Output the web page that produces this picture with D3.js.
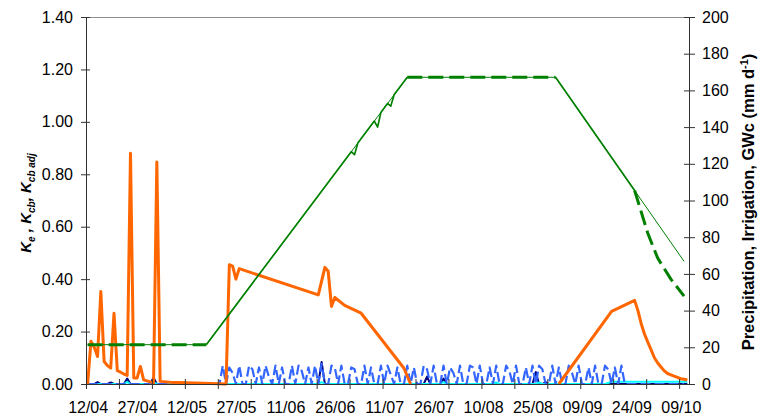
<!DOCTYPE html>
<html><head><meta charset="utf-8">
<script src="https://cdn.jsdelivr.net/npm/d3@7"></script>
<style>
body{margin:0;background:#fff;}
svg{display:block;font-family:"Liberation Sans",Arial,sans-serif;}
</style></head><body>
<svg id="chart" width="758" height="417"></svg>
<script>
// ---- data (day index 0 = 12/04) ----
const dateLabels = ["12/04","27/04","12/05","27/05","11/06","26/06","11/07","26/07","10/08","25/08","09/09","24/09","09/10"];
const labelDays = [0,15,30,45,60,75,90,105,120,135,150,165,180];
const tickDays = [-0.5,9.5,19.5,29.5,39.5,49.5,59.5,69.5,79.5,89.5,99.5,109.5,119.5,129.5,139.5,149.5,159.5,169.5,179.5];
const leftTicks = [0,0.2,0.4,0.6,0.8,1.0,1.2,1.4];
const rightTicks = [0,20,40,60,80,100,120,140,160,180,200];

// Ke (orange)
const keSeries = [[0,0],[1,0.163],[2,0.14],[3,0.105],[4,0.353],[5,0.086],[6,0.07],[7,0.061],[8,0.27],[9,0.051],[10,0.045],[11,0.038],[12,0.033],[13,0.88],[14,0.023],[15,0.023],[16,0.067],[17,0.016],[18,0.012],[19,0.008],[20,0.005],[21,0.847],[22,0.01],[25,0.007],[30,0.005],[35,0.003],[42,0],[43,0.455],[44,0.45],[45,0.40],[46,0.44],[70,0.34],[72,0.445],[73,0.43],[74,0.296],[75,0.33],[78,0.30],[83,0.27],[96,0.06],[98,0],[120,null],[143,0],[159,0.277],[166,0.319],[167,0.28],[168,0.23],[169,0.19],[170,0.16],[171,0.13],[172,0.10],[173,0.08],[174,0.065],[175,0.05],[176,0.04],[177,0.035],[178,0.03],[179,0.025],[180,0.02],[181,0.018],[182,0.015]];
// Kcb (thin green)
const kcbSeries = [[0,0.15],[36,0.15],[97,1.17],[142,1.17],[181,0.468]];
// Kcb adj (dashed green)
const kcbAdjSeries = [[0,0.15],[36,0.15],[80,0.886],[81,0.875],[82,0.919],[87,1.003],[88,0.98],[89,1.036],[91,1.07],[92,1.06],[93,1.103],[97,1.17],[142,1.17],[166,0.738],[170,0.575],[173,0.48],[177,0.40],[181,0.335]];
// day ranges where the Kcb adj dashes are drawn (elsewhere its line looks solid)
const kcbAdjDashedRanges = [[0,36],[97,142],[166,181]];
// Precipitation + irrigation (blue dashed), daily values from day 40 to day 163
const irrigFirstDay = 40;
const irrigValues = [
  0,10,0,9,6,0,10,0,0,10,
  8,0,9,0,10,4,0,10,0,9,
  0,0,10,0,10,7,0,9,0,10,
  0,11,0,0,10,9,0,10,0,0,
  9,8,0,0,10,0,9,0,0,10,
  0,10,5,0,9,0,0,10,0,9,
  0,0,10,8,0,10,0,0,10,0,
  9,6,0,10,0,0,10,9,0,10,
  0,0,9,0,10,0,0,10,7,0,
  10,0,0,9,0,10,0,10,8,0,
  0,10,0,9,0,0,10,6,0,10,
  0,0,9,0,10,0,0,10,8,0,
  9,0,10,0];
const irrigLastDay = 181;
// GWc (navy)
const gwSeries = [[0,0],[2,0],[3,1],[4,0],[6,0],[7,0.8],[8,0],[11,0],[12,3],[13,0],[19,0],[20,3.5],[21,0],[70,0],[71,12],[72,0],[102,0],[103,4],[104,0],[107,0],[108,3],[109,0],[135,0],[136,6.5],[137,0],[138,0],[139,1],[140,0],[182,0]];
// cyan series
const cyanSeries = [[0,0],[11,0],[12,1.2],[13,0],[19,0],[20,0.8],[21,0],[70,0],[71,1],[72,0],[107,0],[108,1],[109,0],[123,0],[124,0.8],[125,0],[136,0],[137,0.8],[138,0],[157,0],[159,1.2],[182,1.2]];

// ---- chart ----
const svg = d3.select("#chart");
const L = 86, R = 689, T = 17, B = 384;
const x = d3.scaleLinear().domain([-0.5,182.5]).range([L,R]);
const yL = d3.scaleLinear().domain([0,1.4]).range([B,T]);
const yR = d3.scaleLinear().domain([0,200]).range([B,T]);

// top border
svg.append("line").attr("x1",L).attr("x2",R+1).attr("y1",T+0.5).attr("y2",T+0.5)
  .attr("stroke","#8c8c8c").attr("stroke-width",1);

const lineL = d3.line().defined(d=>d[1]!=null).x(d=>x(d[0])).y(d=>yL(d[1]));
const lineR = d3.line().defined(d=>d[1]!=null).x(d=>x(d[0])).y(d=>yR(d[1]));

const irrigSeries = [[0,0]].concat(irrigValues.map((v,i)=>[irrigFirstDay+i,v])).concat([[irrigLastDay,0]]);

const plot = svg.append("g");
plot.append("path").datum(gwSeries).attr("d",lineR).attr("fill","none")
  .attr("stroke","#000080").attr("stroke-width",2).attr("stroke-linejoin","round");
plot.append("path").datum(cyanSeries).attr("d",lineR).attr("fill","none")
  .attr("stroke","#00ffff").attr("stroke-width",2).attr("stroke-linejoin","round");
plot.append("path").datum(irrigSeries).attr("d",lineR).attr("fill","none")
  .attr("stroke","#3366ff").attr("stroke-width",2.2).attr("stroke-dasharray","10,4").attr("stroke-linejoin","round");
plot.append("path").datum(keSeries).attr("d",lineL).attr("fill","none")
  .attr("stroke","#ff6600").attr("stroke-width",3).attr("stroke-linejoin","round");
plot.append("path").datum(kcbSeries).attr("d",lineL).attr("fill","none")
  .attr("stroke","#008000").attr("stroke-width",1);

// Kcb adj: solid on the straight slopes, dashed elsewhere
const solidParts = [];
let cur = [];
kcbAdjSeries.forEach((d,i)=>{
  if (i>0) {
    const p = kcbAdjSeries[i-1];
    const seg = kcbAdjDashedRanges.some(r => p[0]>=r[0] && d[0]<=r[1]);
    if (!seg) { if (!cur.length) cur.push(p); cur.push(d); }
    else if (cur.length) { solidParts.push(cur); cur = []; }
  }
});
if (cur.length) solidParts.push(cur);
solidParts.forEach(part=>{
  plot.append("path").datum(part).attr("d",lineL).attr("fill","none")
    .attr("stroke","#008000").attr("stroke-width",1.7).attr("stroke-linejoin","round");
});
kcbAdjDashedRanges.forEach(r=>{
  const part = kcbAdjSeries.filter(d=>d[0]>=r[0] && d[0]<=r[1]);
  plot.append("path").datum(part).attr("d",lineL).attr("fill","none")
    .attr("stroke","#008000").attr("stroke-width",3).attr("stroke-dasharray","15,6");
});

// axes
const axisColor = "#333";
const gL = svg.append("g").attr("transform",`translate(${L},0)`)
  .call(d3.axisLeft(yL).tickValues(leftTicks).tickFormat(d3.format(".2f")).tickSizeOuter(0));
gL.select(".domain").attr("stroke",axisColor);
gL.selectAll(".tick line").attr("x1",-5).attr("x2",4).attr("stroke",axisColor);
gL.selectAll(".tick text").attr("x",-13).attr("font-size",16).attr("font-family","Liberation Sans, Arial, sans-serif").attr("fill","#000");

const gR = svg.append("g").attr("transform",`translate(${R},0)`)
  .call(d3.axisRight(yR).tickValues(rightTicks).tickSizeOuter(0));
gR.select(".domain").attr("stroke",axisColor);
gR.selectAll(".tick line").attr("x1",-5).attr("x2",6).attr("stroke",axisColor);
gR.selectAll(".tick text").attr("x",13).attr("font-size",16).attr("font-family","Liberation Sans, Arial, sans-serif").attr("fill","#000");

const gB = svg.append("g").attr("transform",`translate(0,${B})`)
  .call(d3.axisBottom(x).tickValues(labelDays).tickFormat((d,i)=>dateLabels[i]).tickSize(0).tickSizeOuter(0));
gB.select(".domain").attr("stroke",axisColor);
gB.selectAll(".tick text").attr("y",29).attr("dy",null).attr("font-size",16).attr("font-family","Liberation Sans, Arial, sans-serif").attr("fill","#000");

const gT = svg.append("g").attr("transform",`translate(0,${B})`)
  .call(d3.axisBottom(x).tickValues(tickDays).tickFormat("").tickSizeOuter(0));
gT.select(".domain").remove();
gT.selectAll(".tick line").attr("y1",-5).attr("y2",5).attr("stroke",axisColor);

// titles
const tl = svg.append("text").attr("transform","translate(31,203) rotate(-90)")
  .attr("text-anchor","middle").attr("font-size",15).attr("font-weight","bold").attr("font-style","italic").attr("fill","#000");
tl.append("tspan").text("K");
tl.append("tspan").attr("dy",4).attr("font-size",10).text("e");
tl.append("tspan").attr("dy",-4).text(" , K");
tl.append("tspan").attr("dy",4).attr("font-size",10).text("cb");
tl.append("tspan").attr("dy",-4).text(", K");
tl.append("tspan").attr("dy",4).attr("font-size",10).text("cb adj");

const tr = svg.append("text").attr("transform","translate(754,202) rotate(-90)")
  .attr("text-anchor","middle").attr("font-size",16.5).attr("font-weight","bold").attr("fill","#000");
tr.append("tspan").text("Precipitation, Irrigation, GWc (mm d");
tr.append("tspan").attr("dy",-6).attr("font-size",11).text("-1");
tr.append("tspan").attr("dy",6).text(")");
</script>
</body></html>
